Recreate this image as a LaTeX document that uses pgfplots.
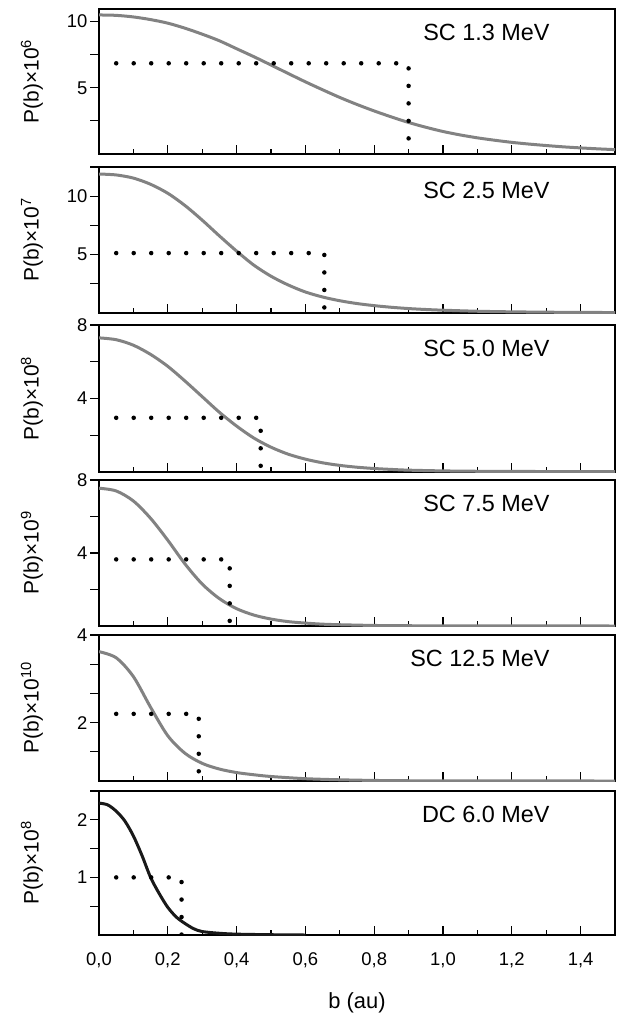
\documentclass[border=0pt]{standalone}
\usepackage{fontspec}
\setmainfont{Liberation Sans}
\usepackage{pgfplots}
\pgfplotsset{compat=1.18}
\definecolor{curvegray}{RGB}{130,130,130}
\definecolor{curveblack}{RGB}{25,25,25}
\pgfplotsset{
  panel/.style={
    scale only axis, width=516bp,
    xmin=0, xmax=1.5,
    xtick={0,0.2,0.4,0.6,0.8,1.0,1.2,1.4},
    minor xtick={0.1,0.3,0.5,0.7,0.9,1.1,1.3,1.5},
    xtick pos=left, ytick pos=left,
    tick align=inside,
    major tick length=9bp, minor tick length=5bp,
    tick style={black, line width=1.2bp},
    ytick style={xshift=-9bp},
    axis line style={line width=1.3bp},
    tick label style={font=\fontsize{18.5}{22}\selectfont},
    /pgf/number format/assume math mode=true,
    yticklabel style={xshift=-8bp},
    label style={font=\fontsize{21}{25}\selectfont},
    ylabel style={at={(axis description cs:-0.13,0.5)}, anchor=center},
  },
  curve/.style={curvegray, line width=3bp, smooth},
  dots/.style={black, line width=4.5bp, line cap=round, dash pattern=on 0pt off 17.5bp},
}
\tikzset{tag/.style={anchor=east, font=\fontsize{23.5}{27}\selectfont}}
\begin{document}
\begin{tikzpicture}
\useasboundingbox (0,0) rectangle (630bp,-1016bp);

% Panel 1
\begin{axis}[panel, at={(99bp,-9bp)}, anchor=north west, height=145bp,
  xticklabels={},
  ymin=0, ymax=10.95, ytick={2.5,5,7.5,10}, yticklabels={,5,,10},
  ylabel={P(b)×10\textsuperscript{6}}]
\addplot[curve] coordinates {(0,10.5)(0.05,10.47)(0.1,10.35)(0.15,10.15)(0.2,9.88)(0.25,9.5)(0.3,9.05)(0.35,8.55)(0.4,7.95)(0.45,7.35)(0.5,6.72)(0.55,6.08)(0.6,5.45)(0.65,4.85)(0.7,4.27)(0.75,3.74)(0.8,3.25)(0.85,2.8)(0.9,2.38)(0.95,2.02)(1.0,1.7)(1.05,1.44)(1.1,1.22)(1.15,1.04)(1.2,0.88)(1.25,0.75)(1.3,0.64)(1.35,0.54)(1.4,0.46)(1.45,0.39)(1.5,0.33)};
\addplot[dots] coordinates {(0.05,6.85)(0.9,6.85)(0.9,0)};
\node[tag] at (rel axis cs:0.88,0.84) {SC 1.3 MeV};
\end{axis}

% Panel 2
\begin{axis}[panel, at={(99bp,-167bp)}, anchor=north west, height=146bp,
  xticklabels={},
  ymin=0, ymax=12.5, ytick={2.5,5,7.5,10,12.5}, yticklabels={,5,,10,},
  ylabel={P(b)×10\textsuperscript{7}}]
\addplot[curve] coordinates {(0,11.9)(0.05,11.82)(0.1,11.55)(0.15,11.02)(0.2,10.25)(0.25,9.2)(0.3,7.95)(0.35,6.6)(0.4,5.3)(0.45,4.1)(0.5,3.15)(0.55,2.4)(0.6,1.8)(0.65,1.37)(0.7,1.05)(0.75,0.81)(0.8,0.63)(0.85,0.49)(0.9,0.38)(0.95,0.3)(1.0,0.24)(1.1,0.15)(1.2,0.1)(1.3,0.07)(1.4,0.05)(1.5,0.04)};
\addplot[dots] coordinates {(0.05,5.13)(0.655,5.13)(0.655,0)};
\node[tag] at (rel axis cs:0.88,0.84) {SC 2.5 MeV};
\end{axis}

% Panel 3
\begin{axis}[panel, at={(99bp,-325bp)}, anchor=north west, height=147bp,
  xticklabels={},
  ymin=0, ymax=8, ytick={2,4,6,8}, yticklabels={,4,,8},
  ylabel={P(b)×10\textsuperscript{8}}]
\addplot[curve] coordinates {(0,7.3)(0.05,7.2)(0.1,6.9)(0.15,6.4)(0.2,5.75)(0.25,4.95)(0.3,4.1)(0.35,3.25)(0.4,2.5)(0.45,1.85)(0.5,1.35)(0.55,0.97)(0.6,0.7)(0.65,0.5)(0.7,0.36)(0.75,0.26)(0.8,0.19)(0.85,0.14)(0.9,0.1)(1.0,0.06)(1.1,0.04)(1.2,0.03)(1.5,0.02)};
\addplot[dots] coordinates {(0.05,2.95)(0.47,2.95)(0.47,0)};
\node[tag] at (rel axis cs:0.88,0.84) {SC 5.0 MeV};
\end{axis}

% Panel 4
\begin{axis}[panel, at={(99bp,-480bp)}, anchor=north west, height=146bp,
  xticklabels={},
  ymin=0, ymax=8, ytick={2,4,6,8}, yticklabels={,4,,8},
  ylabel={P(b)×10\textsuperscript{9}}]
\addplot[curve] coordinates {(0,7.55)(0.05,7.4)(0.1,6.85)(0.15,5.9)(0.2,4.7)(0.25,3.4)(0.3,2.3)(0.35,1.5)(0.4,0.95)(0.45,0.6)(0.5,0.38)(0.55,0.24)(0.6,0.16)(0.65,0.1)(0.7,0.07)(0.8,0.03)(0.9,0.015)(1.0,0.01)(1.5,0.0)};
\addplot[dots] coordinates {(0.05,3.65)(0.38,3.65)(0.38,0)};
\node[tag] at (rel axis cs:0.88,0.84) {SC 7.5 MeV};
\end{axis}

% Panel 5
\begin{axis}[panel, at={(99bp,-635bp)}, anchor=north west, height=146bp,
  xticklabels={},
  ymin=0.667, ymax=4, ytick={1.3333,2,2.6667,3.3333,4}, yticklabels={,2,,,4},
  ylabel={P(b)×10\textsuperscript{10}}]
\addplot[curve] coordinates {(0,3.62)(0.05,3.48)(0.1,3.05)(0.15,2.35)(0.2,1.7)(0.25,1.3)(0.3,1.07)(0.35,0.94)(0.4,0.86)(0.45,0.81)(0.5,0.77)(0.6,0.72)(0.7,0.695)(0.8,0.68)(0.9,0.673)(1.0,0.67)(1.5,0.667)};
\addplot[dots] coordinates {(0.05,2.2)(0.29,2.2)(0.29,0.667)};
\node[tag] at (rel axis cs:0.88,0.84) {SC 12.5 MeV};
\end{axis}

% Panel 6
\begin{axis}[panel, at={(99bp,-791bp)}, anchor=north west, height=144bp,
  ymin=0, ymax=2.5, ytick={0.5,1,1.5,2,2.5}, yticklabels={,1,,2,},
  ylabel={P(b)×10\textsuperscript{8}},
  xticklabel={\pgfmathprintnumber{\tick}},
  xticklabel style={yshift=-14bp, /pgf/number format/.cd, fixed, fixed zerofill, precision=1, use comma},
  xlabel={b (au)},
  xlabel style={at={(axis description cs:0.5,-0.47)}, anchor=center, font=\fontsize{22}{26}\selectfont}]
\addplot[curve, curveblack] coordinates {(0,2.29)(0.025,2.26)(0.05,2.15)(0.075,1.98)(0.1,1.72)(0.125,1.38)(0.15,1.0)(0.175,0.72)(0.2,0.48)(0.225,0.31)(0.25,0.2)(0.275,0.11)(0.3,0.06)(0.35,0.03)(0.4,0.015)(0.5,0.005)(0.6,0.0)};
\addplot[dots] coordinates {(0.05,1.0)(0.24,1.0)(0.24,0)};
\node[tag] at (rel axis cs:0.88,0.84) {DC 6.0 MeV};
\end{axis}
\end{tikzpicture}
\end{document}
